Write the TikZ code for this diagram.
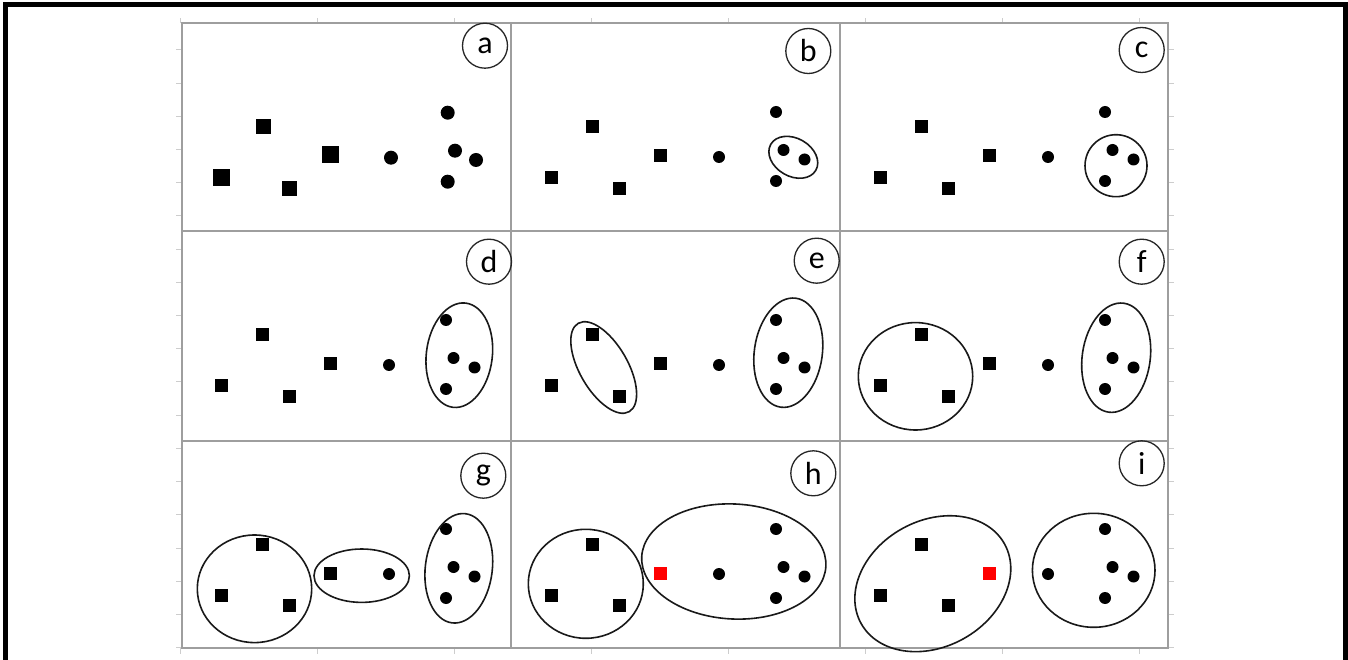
\documentclass[tikz,border=0pt]{standalone}
\usepackage{fontspec}
\setmainfont{Carlito}
\definecolor{gridgray}{RGB}{158,158,158}
\definecolor{tickgray}{RGB}{205,205,205}
\definecolor{ptred}{RGB}{255,0,0}
\tikzset{
  sq/.style={rectangle,fill=black,minimum size=13,inner sep=0pt},
  dot/.style={circle,fill=black,minimum size=12,inner sep=0pt},
  lab/.style={circle,draw=black!85,line width=1.3pt,minimum size=45,inner sep=0pt,font=\fontsize{32}{32}\selectfont},
  ring/.style={draw=black!90,line width=1.6pt},
  gridline/.style={draw=gridgray,line width=2pt},
  tickline/.style={draw=tickgray,line width=1pt},
  frame/.style={draw=black,line width=5.6pt,line join=miter}
}
\newcommand\mypts[2]{%
  \node[sq] (#1s1) at (40,-155) {};
  \node[sq] (#1s2) at (81,-104) {};
  \node[sq] (#1s3) at (108.7,-165.5) {};
  \node[sq,fill=#2] (#1s4) at (149,-133) {};
  \node[dot] (#1c1) at (208,-134) {};
  \node[dot] (#1c2) at (265,-89) {};
  \node[dot] (#1c3) at (272.5,-127) {};
  \node[dot] (#1c4) at (293.5,-136.5) {};
  \node[dot] (#1c5) at (265,-158) {};
}
\newcommand\myell[5]{%
  \draw[ring,shift={(#1,-#2)},rotate=#5] (0,0) ellipse [x radius=#3, y radius=#4];
}
\begin{document}
\begin{tikzpicture}[x=1pt,y=1pt]
\useasboundingbox (0,0) rectangle (1348,659);
\fill[white] (0,0) rectangle (1348,659);
% ticks
\foreach \k in {0,...,18}{
  \draw[tickline] (176,609-33.2*\k) -- (181.5,609-33.2*\k);
  \draw[tickline] (1168,609-33.2*\k) -- (1173.5,609-33.2*\k);
}
\foreach \k in {0,...,7}{
  \draw[tickline] (180+137.1*\k,635.5) -- (180+137.1*\k,641);
  \draw[tickline] (180+137.1*\k,11) -- (180+137.1*\k,5.5);
}
% grid
\draw[gridline] (181.5,635.5) rectangle (1168,11);
\draw[gridline] (511,635.5) -- (511,11);
\draw[gridline] (840,635.5) -- (840,11);
\draw[gridline] (181.5,428) -- (1168,428);
\draw[gridline] (181.5,218.5) -- (1168,218.5);
% frame
\draw[frame] (5.5,-20) -- (5.5,654.5) -- (1345.5,654.5) -- (1345.5,-20);
% panel a
\begin{scope}[shift={(181,636)}]
  \node[sq,minimum size=17] (as1) at (40.7,-154.7) {};
  \node[sq,minimum size=15] (as2) at (82.3,-103.7) {};
  \node[sq,minimum size=15] (as3) at (108.3,-165.3) {};
  \node[sq,minimum size=17] (as4) at (149.7,-132) {};
  \node[dot,minimum size=14] (ac1) at (210,-134.7) {};
  \node[dot,minimum size=14] (ac2) at (266.7,-89.7) {};
  \node[dot,minimum size=14] (ac3) at (274,-127.7) {};
  \node[dot,minimum size=14] (ac4) at (295,-137) {};
  \node[dot,minimum size=14] (ac5) at (266.7,-158.7) {};
  \node[lab] (la) at (304,-22.7) {a};
\end{scope}
% panel b
\begin{scope}[shift={(511,636)}]
  \mypts{b}{black}
  \myell{282.3}{134.3}{26}{19}{-30}
  \node[lab] (lb) at (297.3,-28) {b};
\end{scope}
% panel c
\begin{scope}[shift={(840,636)}]
  \mypts{c}{black}
  \myell{276}{142.7}{31}{31}{0}
  \node[lab] (lc) at (301.7,-27) {c};
\end{scope}
% panel d
\begin{scope}[shift={(181,428)}]
  \mypts{d}{black}
  \myell{278.3}{124.2}{33}{52.5}{-7}
  \node[lab] (ld) at (308,-30.7) {d};
\end{scope}
% panel e
\begin{scope}[shift={(511,428)}]
  \mypts{e}{black}
  \myell{92.7}{136.5}{51}{24}{-60}
  \myell{277.3}{121.7}{34}{55}{-8}
  \node[lab] (le) at (305.7,-29.7) {e};
\end{scope}
% panel f
\begin{scope}[shift={(840,428)}]
  \mypts{f}{black}
  \myell{75.5}{145.3}{57.2}{53.7}{0}
  \myell{276.2}{126.7}{34}{55}{-8}
  \node[lab] (lf) at (301.7,-30.7) {f};
\end{scope}
% panel g
\begin{scope}[shift={(181,219)}]
  \mypts{g}{black}
  \myell{73.5}{148.8}{57.2}{53.8}{0}
  \myell{180.7}{135.7}{47.7}{26.7}{0}
  \myell{277.8}{128.3}{33.5}{55}{-7}
  \node[lab] (lg) at (302.3,-35.7) {g};
\end{scope}
% panel h
\begin{scope}[shift={(511,219)}]
  \mypts{h}{ptred}
  \myell{74.8}{143.8}{57.5}{54.5}{0}
  \myell{222.8}{121.5}{92.2}{57.5}{-3}
  \node[lab] (lh) at (302.3,-33.3) {h};
\end{scope}
% panel i
\begin{scope}[shift={(840,219)}]
  \mypts{i}{ptred}
  \myell{92.8}{143.7}{82}{63}{29}
  \myell{253.7}{130.3}{61.3}{57}{0}
  \node[lab] (li) at (301.7,-23.3) {i};
\end{scope}
\end{tikzpicture}
\end{document}
